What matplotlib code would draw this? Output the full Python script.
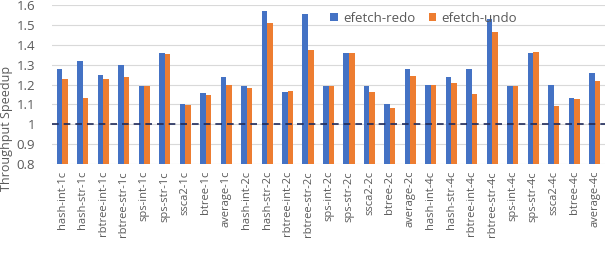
import matplotlib
matplotlib.use("Agg")
import matplotlib.pyplot as plt
import numpy as np

categories = ["hash-int-1c", "hash-str-1c", "rbtree-int-1c", "rbtree-str-1c", "sps-int-1c",
              "sps-str-1c", "ssca2-1c", "btree-1c", "average-1c",
              "hash-int-2c", "hash-str-2c", "rbtree-int-2c", "rbtree-str-2c", "sps-int-2c",
              "sps-str-2c", "ssca2-2c", "btree-2c", "average-2c",
              "hash-int-4c", "hash-str-4c", "rbtree-int-4c", "rbtree-str-4c", "sps-int-4c",
              "sps-str-4c", "ssca2-4c", "btree-4c", "average-4c"]
redo = [1.28, 1.32, 1.25, 1.30, 1.19, 1.36, 1.10, 1.155, 1.24,
        1.19, 1.572, 1.16, 1.553, 1.19, 1.36, 1.19, 1.10, 1.278,
        1.20, 1.24, 1.28, 1.53, 1.19, 1.36, 1.195, 1.13, 1.26]
undo = [1.23, 1.13, 1.23, 1.24, 1.19, 1.355, 1.095, 1.145, 1.20,
        1.18, 1.51, 1.165, 1.373, 1.19, 1.36, 1.16, 1.08, 1.245,
        1.20, 1.21, 1.15, 1.465, 1.19, 1.365, 1.09, 1.125, 1.22]
series_names = ["efetch-redo", "efetch-undo"]

plt.rcParams['font.family'] = ['Open Sans', 'DejaVu Sans']
fig = plt.figure(figsize=(6.08, 2.56), dpi=100)
ax = fig.add_axes([52/608, 1-164/256, (605-52)/608, (164-5)/256])

x = np.arange(len(categories))
w = 0.27
ax.bar(x - w/2, redo, w, color="#4472C4", label=series_names[0], zorder=3)
ax.bar(x + w/2, undo, w, color="#ED7D31", label=series_names[1], zorder=3)
ax.axhline(1.0, color="#1F2A5A", linestyle=(0, (4, 3)), linewidth=1.2, zorder=4)

ax.set_ylim(0.8, 1.6)
ax.set_xlim(-0.5, len(categories) - 0.5)
ax.set_yticks(np.arange(0.8, 1.61, 0.1))
ax.set_yticklabels(["0.8", "0.9", "1", "1.1", "1.2", "1.3", "1.4", "1.5", "1.6"])
ax.yaxis.grid(True, color="#D9D9D9", linewidth=0.8, zorder=0)
ax.set_xticks(x)
ax.set_xticklabels(categories, rotation=90)
ax.tick_params(axis='both', length=0, colors="#595959", labelsize=8)
ax.tick_params(axis='x', pad=5)
ax.tick_params(axis='y', labelsize=9.5, pad=12)
for s in ax.spines.values():
    s.set_visible(False)
fig.text(7/608, 0.5, "Throughput Speedup", rotation=90, color="#595959", fontsize=9,
         ha="center", va="center")
ax.legend(loc="upper left", bbox_to_anchor=(318/608 - 52/608, 1.055), bbox_transform=ax.transAxes,
          ncol=2, frameon=False,
          fontsize=9.5, labelcolor="#595959", handlelength=0.6, handleheight=0.6,
          columnspacing=1.0, handletextpad=0.4)
leg = ax.get_legend()
leg.set_bbox_to_anchor((318/608, 1.0 - 0/256), transform=fig.transFigure)
fig.savefig("out.png", dpi=100)
